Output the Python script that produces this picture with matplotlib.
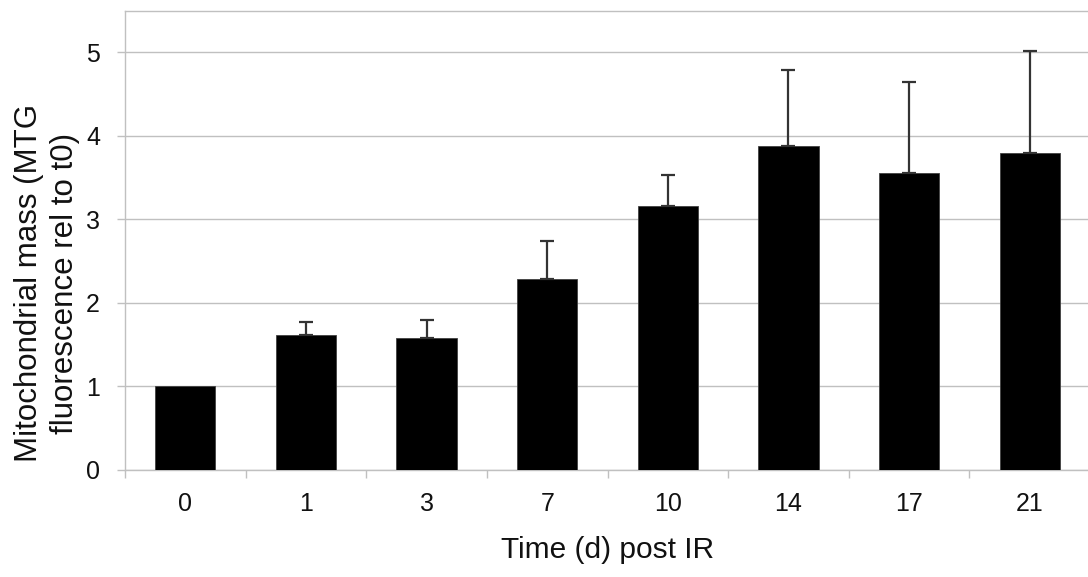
import matplotlib
matplotlib.use("Agg")
import matplotlib.pyplot as plt
import numpy as np

plt.rcParams["font.family"] = ["Liberation Sans", "DejaVu Sans"]

# データ
days = ["0", "1", "3", "7", "10", "14", "17", "21"]
mass = [1.0, 1.62, 1.58, 2.28, 3.16, 3.88, 3.56, 3.79]
err_up = [0.0, 0.145, 0.21, 0.46, 0.37, 0.91, 1.09, 1.23]

grid_color = "#c0c0c0"
text_color = "#111111"

fig = plt.figure(figsize=(10.88, 5.77), dpi=100)
ax = fig.add_axes([125 / 1088, 107.3 / 577, 965 / 1088, 459 / 577])

x = np.arange(len(days))
ax.bar(x, mass, width=0.5, color="black", edgecolor="#404040", linewidth=0.6, zorder=3)
ax.errorbar(
    x[1:],
    mass[1:],
    yerr=[np.zeros(len(x) - 1), err_up[1:]],
    fmt="none",
    ecolor="#333333",
    elinewidth=1.6,
    capsize=5,
    capthick=1.6,
    zorder=4,
)

ax.set_xlim(-0.5, len(days) - 0.5)
ax.set_ylim(0, 5.5)
ax.set_yticks(range(0, 6))
ax.set_xticks(x)
ax.set_xticklabels(days)
ax.set_xticks(np.arange(-0.5, len(days)), minor=True)

ax.yaxis.grid(True, color=grid_color, linewidth=1.0, zorder=0)
ax.set_axisbelow(True)

for side in ["left", "bottom", "top"]:
    ax.spines[side].set_color(grid_color)
    ax.spines[side].set_linewidth(1.0)
ax.spines["right"].set_visible(False)

ax.tick_params(axis="x", which="major", length=0, pad=16, labelsize=18, labelcolor=text_color)
ax.tick_params(axis="x", which="minor", length=5.8, width=1.0, color=grid_color)
ax.tick_params(axis="y", length=5.5, width=1.0, color=grid_color, pad=12.5,
               labelsize=18, labelcolor=text_color)

ax.set_xlabel("Time (d) post IR", fontsize=21.5, color=text_color)
ax.xaxis.set_label_coords(0.5, (469.7 - 536) / 459)
ax.set_ylabel(
    "Mitochondrial mass (MTG\nfluorescence rel to t0)",
    fontsize=22.5,
    color=text_color,
    va="center",
    ha="center",
    linespacing=1.28,
)
ax.yaxis.set_label_coords((47 - 125) / 965, (469.7 - 283) / 459)

plt.savefig("out.png", dpi=100)
plt.close(fig)
